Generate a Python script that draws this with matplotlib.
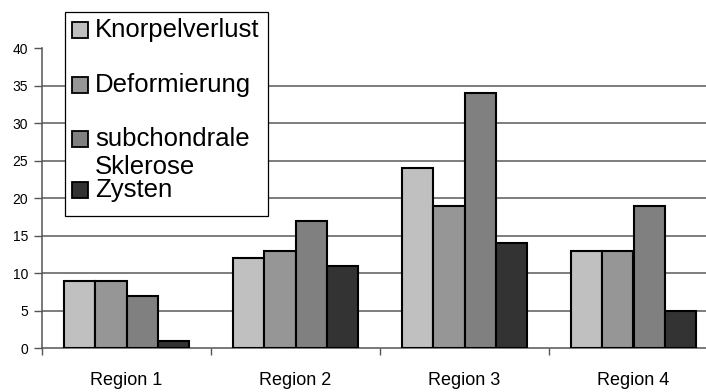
import numpy as np
import matplotlib
matplotlib.use("Agg")
import matplotlib.pyplot as plt
from matplotlib.patches import Rectangle

regions = ["Region 1", "Region 2", "Region 3", "Region 4"]
series = ["Knorpelverlust", "Deformierung", "subchondrale\nSklerose", "Zysten"]
knorpelverlust = [9, 12, 24, 13]
deformierung = [9, 13, 19, 13]
sklerose = [7, 17, 34, 19]
zysten = [1, 11, 14, 5]
colors = ["#c0c0c0", "#969696", "#808080", "#333333"]
yticks = [0, 5, 10, 15, 20, 25, 30, 35, 40]

plt.rcParams["font.family"] = ["Liberation Sans", "DejaVu Sans"]

W, H = 706, 392
fig = plt.figure(figsize=(W / 100, H / 100), dpi=100)
ax = fig.add_axes([42 / W, (H - 348.3) / H, 676 / W, 300 / H])

x = np.arange(len(regions))
bw = 0.1835
for i, vals in enumerate([knorpelverlust, deformierung, sklerose, zysten]):
    ax.bar(x + (i - 1.5) * bw, vals, width=bw, color=colors[i],
           edgecolor="black", linewidth=1.5, zorder=3)

ax.set_xlim(-0.5, 3.5)
ax.set_ylim(0, 40)
ax.set_yticks(yticks)
ax.set_xticks(x)
ax.set_xticklabels(regions, fontsize=13)
ax.set_xticks(np.arange(-0.5, 4.0, 1.0), minor=True)
ax.tick_params(axis="x", which="major", length=0, pad=17)
ax.tick_params(axis="x", which="minor", length=5, width=1, color="#555555")
ax.tick_params(axis="y", length=6, width=1, color="#555555", labelsize=10, pad=4)

ax.grid(axis="y", color="#5a5a5a", linewidth=1.1, zorder=0)
ax.yaxis.get_gridlines()[-1].set_visible(False)
ax.yaxis.get_gridlines()[0].set_visible(False)
for s in ["top", "right"]:
    ax.spines[s].set_visible(False)
for s in ["left", "bottom"]:
    ax.spines[s].set_color("#555555")
    ax.spines[s].set_linewidth(1.1)


# legend box drawn by hand so the wrapped label keeps its swatch on the first line
def fx(px):
    return px / W


def fy(py):
    return 1 - py / H


fig.patches.append(Rectangle((fx(65), fy(216)), fx(203), 204 / H, transform=fig.transFigure,
                             facecolor="white", edgecolor="black", linewidth=0.9, zorder=5))
rows = [30, 85, 139, 190]
for name, c, yc in zip(series, colors, rows):
    fig.patches.append(Rectangle((fx(72), fy(yc + 8)), fx(16), 16 / H, transform=fig.transFigure,
                                 facecolor=c, edgecolor="black", linewidth=1.3, zorder=6))
    for k, line in enumerate(name.split("\n")):
        fig.text(fx(95), fy(yc + 28 * k), line, fontsize=18.5, va="center", ha="left", zorder=7)

fig.savefig("out.png", dpi=100)
